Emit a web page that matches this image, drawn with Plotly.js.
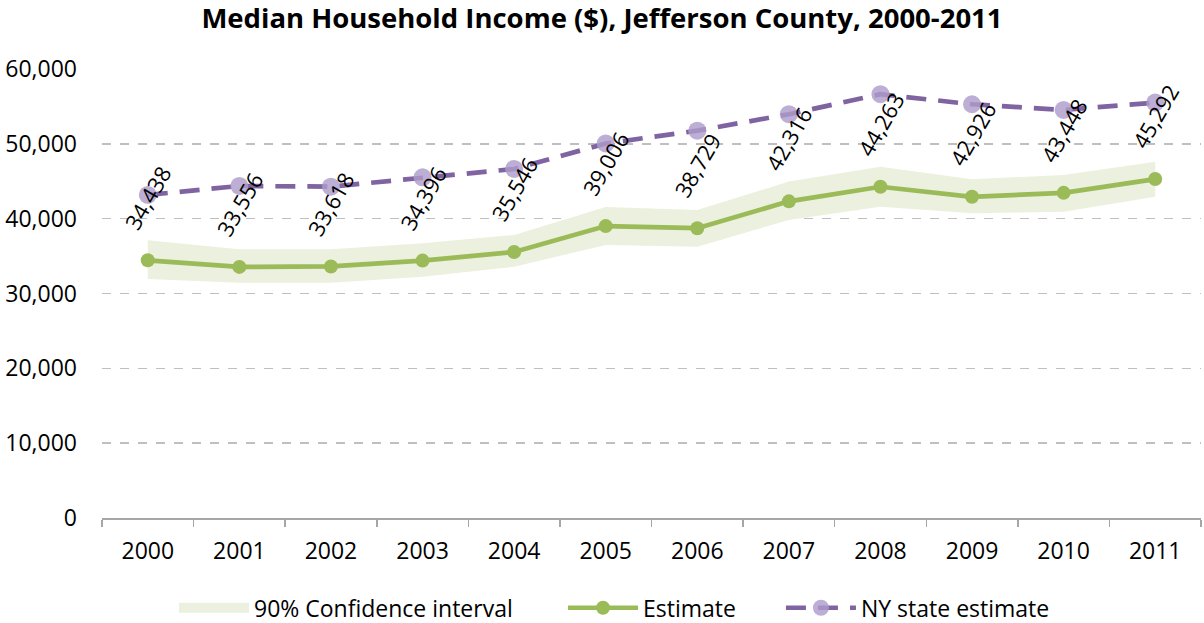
<!DOCTYPE html>
<html>
<head>
<meta charset="utf-8">
<script src="https://cdn.plot.ly/plotly-3.0.1.min.js"></script>
<style>
  html, body { margin: 0; padding: 0; background: #fff; }
  #chart { width: 1204px; height: 623px; }
</style>
</head>
<body>
<div id="chart"></div>
<script>
const years = ['2000','2001','2002','2003','2004','2005','2006','2007','2008','2009','2010','2011'];
const estimate = [34438, 33556, 33618, 34396, 35546, 39006, 38729, 42316, 44263, 42926, 43448, 45292];
const ciLower = [31940, 31440, 31440, 32250, 33580, 36480, 36260, 39830, 41600, 40720, 40940, 42940];
const ciUpper = [37110, 35910, 35910, 36710, 37820, 41560, 41160, 44950, 46950, 45270, 45840, 47620];
const nyEstimate = [43170, 44370, 44280, 45530, 46640, 50050, 51760, 53960, 56630, 55290, 54530, 55510];
const estimateLabels = estimate.map(v => v.toLocaleString('en-US'));
const yTicks = [0, 10000, 20000, 30000, 40000, 50000, 60000];

const FONT = 'Open Sans, Liberation Sans, sans-serif';
const BAND = '#ebf1de';

const traces = [
  {
    x: years, y: ciLower, type: 'scatter', mode: 'lines',
    line: { width: 0, color: 'rgba(0,0,0,0)' },
    showlegend: false, hoverinfo: 'skip'
  },
  {
    x: years, y: ciUpper, type: 'scatter', mode: 'lines',
    name: '90% Confidence interval',
    fill: 'tonexty', fillcolor: BAND,
    line: { width: 0, color: BAND },
    showlegend: false, hoverinfo: 'skip'
  },
  {
    x: [years[0]], y: [null], type: 'scatter', mode: 'lines',
    name: '90% Confidence interval', legend: 'legend',
    line: { width: 12, color: BAND },
    hoverinfo: 'skip'
  },
  {
    x: years, y: estimate, type: 'scatter', mode: 'lines+markers',
    name: 'Estimate', legend: 'legend2',
    line: { color: '#9bbb59', width: 4.7 },
    marker: { color: '#9bbb59', size: 14 }
  },
  {
    x: years, y: nyEstimate, type: 'scatter', mode: 'lines+markers',
    name: 'NY state estimate', legend: 'legend3',
    line: { color: '#8064a2', width: 4.7, dash: '20px,12px' },
    marker: { color: 'rgba(173,156,203,0.82)', size: 18 }
  }
];

const annotations = years.map((yr, i) => ({
  x: i, y: estimate[i], xref: 'x', yref: 'y',
  text: estimateLabels[i], showarrow: false,
  textangle: -60, yshift: 63,
  font: { family: FONT, size: 22, color: '#000' }
}));

const legendBase = {
  orientation: 'h', y: -0.2, yanchor: 'middle', xanchor: 'left',
  itemwidth: 70,
  font: { family: FONT, size: 23, color: '#000' },
  bgcolor: 'rgba(0,0,0,0)', traceorder: 'normal'
};

const layout = {
  width: 1204, height: 623,
  margin: { l: 102, r: 3, t: 69, b: 105, autoexpand: false },
  paper_bgcolor: '#fff', plot_bgcolor: '#fff',
  font: { family: FONT, size: 23, color: '#000' },
  title: {
    text: '<b>Median Household Income ($), Jefferson County, 2000-2011</b>',
    font: { family: FONT, size: 27.5, color: '#000' },
    x: 0.5, xref: 'container', xanchor: 'center',
    y: 0.971, yref: 'container', yanchor: 'middle'
  },
  xaxis: {
    type: 'category', range: [-0.5, 11.5],
    showline: true, linecolor: '#a6a6a6', linewidth: 1.5,
    ticks: 'outside', tickson: 'boundaries', ticklen: 7, tickcolor: '#a6a6a6', tickwidth: 1.5,
    showgrid: false, zeroline: false,
    ticklabelstandoff: 12,
    tickfont: { family: FONT, size: 23, color: '#000' }
  },
  yaxis: {
    range: [0, 60000], tickvals: yTicks,
    tickformat: ',d',
    showgrid: true, gridcolor: '#bfbfbf', gridwidth: 1.5, griddash: 'dash',
    zeroline: false, showline: false, ticks: '',
    ticklabelstandoff: 24,
    tickfont: { family: FONT, size: 23, color: '#000' }
  },
  legend: Object.assign({}, legendBase, { x: 0.0655 }),
  legend2: Object.assign({}, legendBase, { x: 0.4195 }),
  legend3: Object.assign({}, legendBase, { x: 0.6178 }),
  annotations: annotations,
  showlegend: true,
  hovermode: false
};

Plotly.newPlot('chart', traces, layout, { displayModeBar: false, staticPlot: true });
</script>
</body>
</html>
